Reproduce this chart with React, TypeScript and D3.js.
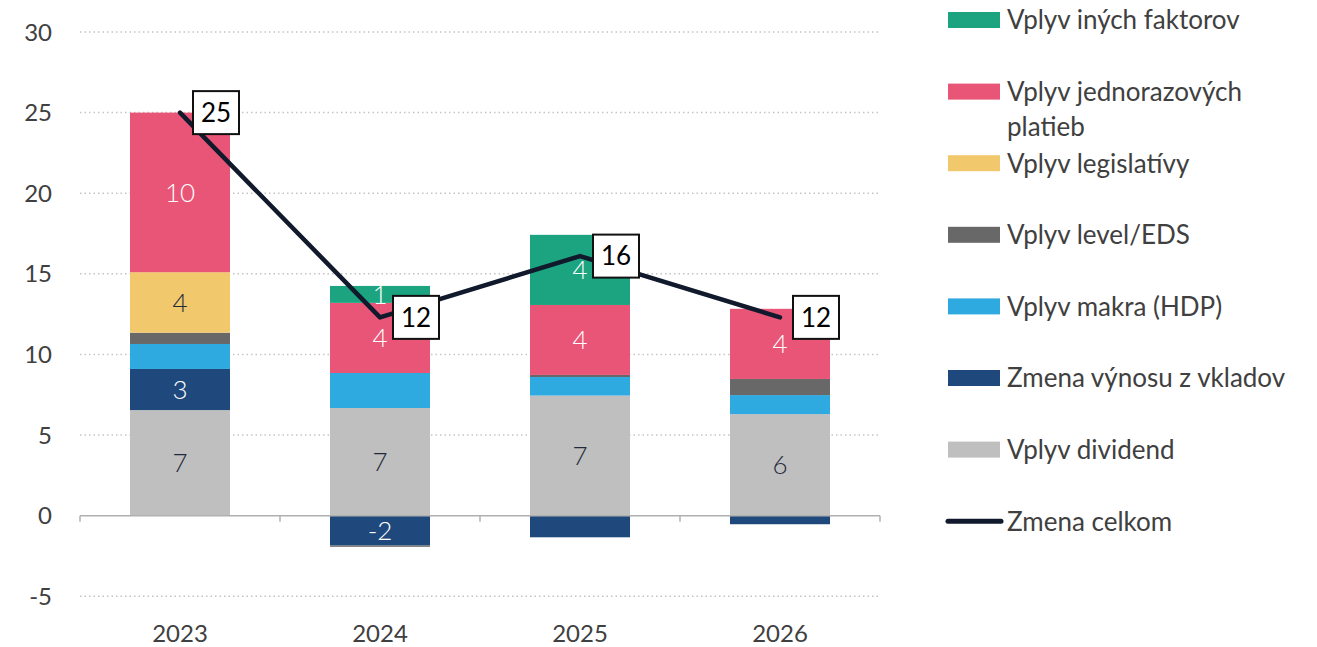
import React from "react";
import * as d3 from "d3";

const years = ["2023", "2024", "2025", "2026"];
const dividend = [6.55, 6.68, 7.45, 6.3];
const vklady = [2.55, -1.85, -1.34, -0.53];
const makro = [1.55, 2.17, 1.15, 1.18];
const level = [0.7, -0.08, 0.13, 1.0];
const legislativa = [3.75, 0, 0, 0];
const jednorazove = [9.9, 4.35, 4.34, 4.35];
const ine = [0, 1.05, 4.35, 0];
const total = [25.0, 12.3, 16.1, 12.3];
const yTicks = [-5, 0, 5, 10, 15, 20, 25, 30];

const seriesNames = [
  "Vplyv dividend",
  "Zmena výnosu z vkladov",
  "Vplyv makra (HDP)",
  "Vplyv level/EDS",
  "Vplyv legislatívy",
  "Vplyv jednorazových platieb",
  "Vplyv iných faktorov",
];
const seriesValues = [dividend, vklady, makro, level, legislativa, jednorazove, ine];
const seriesColors = ["#bfbfbf", "#1f497d", "#2eaae1", "#686868", "#f2c86c", "#e85577", "#1ba47f"];
const labelColors = ["#1f2a3c", "#ffffff", "", "", "#1f2a3c", "#ffffff", "#ffffff"];
const labelShown = [
  [true, true, true, true],
  [true, true, false, false],
  [false, false, false, false],
  [false, false, false, false],
  [true, false, false, false],
  [true, true, true, true],
  [false, true, true, false],
];
const legendOrder = [6, 5, 4, 3, 2, 1, 0];
const totalName = "Zmena celkom";

const W = 1317;
const H = 647;
const FONT = "Lato, 'Open Sans', sans-serif";

export default function App() {
  const x = d3.scaleBand().domain(years).range([80, 880]).paddingInner(0.5).paddingOuter(0.25);
  const y = d3.scaleLinear().domain([-5, 30]).range([596.3, 32]);

  const segs: any[] = [];
  years.forEach((yr, i) => {
    let pos = 0;
    let neg = 0;
    seriesValues.forEach((vals, s) => {
      const v = vals[i];
      if (v === 0) return;
      let y0, y1;
      if (v > 0) {
        y0 = pos;
        y1 = pos + v;
        pos = y1;
      } else {
        y0 = neg;
        y1 = neg + v;
        neg = y1;
      }
      segs.push({ i, s, v, y0, y1 });
    });
  });

  const cx = (i: number) => (x(years[i]) as number) + x.bandwidth() / 2;
  const line = d3
    .line<number>()
    .x((_, i) => cx(i))
    .y((d) => y(d));

  const boxW = 46;
  const boxH = 43;
  const legStep = 71.6;

  return (
    <svg width={W} height={H} style={{ position: "absolute", left: 0, top: 0, background: "#fff" }} fontFamily={FONT}>
      {yTicks.filter((t) => t !== 0).map((t) => (
        <line key={t} x1={80} x2={880} y1={y(t)} y2={y(t)} stroke="#c4c4c4" strokeWidth={1.5} strokeDasharray="1.5,3" />
      ))}
      {yTicks.map((t) => (
        <text key={"yl" + t} x={52} y={y(t)} dy="0.36em" textAnchor="end" fontSize={24} fill="#404040">
          {t}
        </text>
      ))}
      {segs.map((d, k) => (
        <rect
          key={k}
          x={x(years[d.i])}
          width={x.bandwidth()}
          y={y(Math.max(d.y0, d.y1))}
          height={Math.abs(y(d.y0) - y(d.y1))}
          fill={seriesColors[d.s]}
        />
      ))}
      <line x1={80} x2={880} y1={y(0)} y2={y(0)} stroke="#b0b0b0" strokeWidth={1.5} />
      {d3.range(years.length + 1).map((k) => {
        const xx = 80 + k * x.step();
        return <line key={"tk" + k} x1={xx} x2={xx} y1={y(0)} y2={y(0) + 6} stroke="#b0b0b0" strokeWidth={1.5} />;
      })}
      {years.map((yr) => (
        <text key={yr} x={(x(yr) as number) + x.bandwidth() / 2} y={633} dy="0.36em" textAnchor="middle" fontSize={24} fill="#404040">
          {yr}
        </text>
      ))}
      {segs
        .filter((d) => labelShown[d.s][d.i])
        .map((d, k) => (
          <text
            key={"sl" + k}
            x={cx(d.i)}
            y={y((d.y0 + d.y1) / 2)}
            dy="0.36em"
            textAnchor="middle"
            fontSize={26}
            fontWeight={300}
            fill={labelColors[d.s]}
          >
            {Math.round(d.v)}
          </text>
        ))}
      <path d={line(total) || ""} fill="none" stroke="#111a2c" strokeWidth={4.5} strokeLinecap="round" strokeLinejoin="round" />
      {total.map((t, i) => (
        <g key={"tb" + i}>
          <rect x={cx(i) + 13} y={y(t) - boxH / 2} width={boxW} height={boxH} fill="#fff" stroke="#111" strokeWidth={2} />
          <text x={cx(i) + 13 + boxW / 2} y={y(t)} dy="0.36em" textAnchor="middle" fontSize={26} fill="#000">
            {Math.round(t)}
          </text>
        </g>
      ))}
      {legendOrder.map((s, k) => {
        const ly = 20 + k * legStep;
        const name = seriesNames[s];
        const parts = name === "Vplyv jednorazových platieb" ? ["Vplyv jednorazových", "platieb"] : [name];
        return (
          <g key={"lg" + s}>
            <rect x={948} y={ly - 8} width={52} height={16} fill={seriesColors[s]} />
            {parts.map((p, j) => (
              <text key={j} x={1007} y={ly + j * 35} dy="0.36em" fontSize={26} fill="#404040">
                {p}
              </text>
            ))}
          </g>
        );
      })}
      <line x1={948} x2={1001} y1={20 + 7 * legStep} y2={20 + 7 * legStep} stroke="#111a2c" strokeWidth={5} strokeLinecap="round" />
      <text x={1007} y={20 + 7 * legStep} dy="0.36em" fontSize={26} fill="#404040">
        {totalName}
      </text>
    </svg>
  );
}
